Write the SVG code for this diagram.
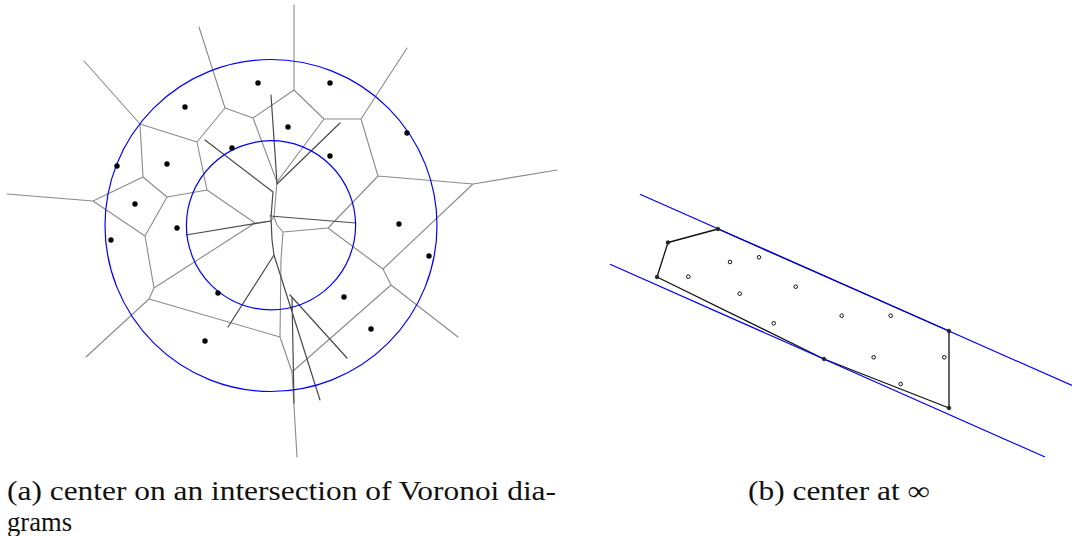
<svg xmlns="http://www.w3.org/2000/svg" width="1072" height="536" viewBox="0 0 1072 536">
<style>
.vg{stroke:#8a8a8a;stroke-width:1.1;fill:none;stroke-linecap:round;stroke-linejoin:round}
.vd{stroke:#4a4a4a;stroke-width:1.2;fill:none;stroke-linecap:round;stroke-linejoin:round}
.bl{stroke:#0000ff;stroke-width:1.2;fill:none}
.site{fill:#000}
.hull{stroke:#111;stroke-width:1.3;fill:none;stroke-linejoin:round}
.hv{fill:#222;stroke:#222;stroke-width:0.8}
.op{fill:#fff;stroke:#111;stroke-width:1}
text{font-family:"Liberation Serif","DejaVu Serif",serif;font-size:27px;fill:#111}
</style>
<rect width="1072" height="536" fill="#fff"/>
<g id="panel-a">
<g id="voronoi-edges">
<path class="vg" d="M84,61L140,124M199,27L225,108L253,118M225,108L197,142M140,124L197,142M140,124L143,177L93,201M7,194L93,201M143,177L167,197M197,142L207,190M167,197L207,190L255,223M93,201L145,236M167,197L145,236L154,288L255,223M154,288L149,299L86,357M149,299L280,337M253,118L294,90M294,5L294,90L324,119L361,119L407,48M361,119L378,176L473,184L557,170M473,184L383,269M378,176L328,228M324,119L277,182M253,118L277,182L274,217M255,223L271,221L274,217L277,225L283,232L328,228L383,269L391,285L458,337M391,285L292,372M283,232L281,260L280,337L292,372L297,457"/>
</g>
<g id="dark-edges">
<path class="vd" d="M205,140L273,192L271,217L272,240L274,255M271,95L277,183M340,123L277,184M270,216L356,223M186,235L271,221M274,255L228,327M274,255L320,400M290,295L347,358M292,297L294,403"/>
</g>
<g id="circles">
<circle class="bl" cx="271" cy="225.5" r="166"/>
<circle class="bl" cx="271" cy="225.3" r="84.6"/>
</g>
<g id="sites">
<circle class="site" cx="258" cy="83" r="2.7"/>
<circle class="site" cx="185" cy="107" r="2.7"/>
<circle class="site" cx="232" cy="148" r="2.7"/>
<circle class="site" cx="117" cy="166" r="2.7"/>
<circle class="site" cx="167" cy="164" r="2.7"/>
<circle class="site" cx="135" cy="204" r="2.7"/>
<circle class="site" cx="177" cy="228" r="2.7"/>
<circle class="site" cx="330" cy="83" r="2.7"/>
<circle class="site" cx="288" cy="127" r="2.7"/>
<circle class="site" cx="407" cy="133" r="2.7"/>
<circle class="site" cx="330" cy="156" r="2.7"/>
<circle class="site" cx="399" cy="224" r="2.7"/>
<circle class="site" cx="111" cy="240" r="2.7"/>
<circle class="site" cx="218" cy="293" r="2.7"/>
<circle class="site" cx="205" cy="341" r="2.7"/>
<circle class="site" cx="429" cy="256" r="2.7"/>
<circle class="site" cx="344" cy="297" r="2.7"/>
<circle class="site" cx="371" cy="329" r="2.7"/>
</g>
</g>
<g id="panel-b">
<g id="hull">
<polygon class="hull" points="718,229 668,242.5 657,277 824,359 949,408 949,331"/>
</g>
<g id="strip">
<line class="bl" x1="640" y1="194.2" x2="1072" y2="385.5"/>
<line class="bl" x1="610" y1="264.3" x2="1045" y2="457"/>
</g>
<g id="hull-vertices">
<circle class="hv" cx="718" cy="229" r="1.8"/>
<circle class="hv" cx="668" cy="242.5" r="1.8"/>
<circle class="hv" cx="657" cy="277" r="1.8"/>
<circle class="hv" cx="824" cy="359" r="1.8"/>
<circle class="hv" cx="949" cy="408" r="1.8"/>
<circle class="hv" cx="949" cy="331" r="1.8"/>
</g>
<g id="points">
<circle class="op" cx="688.3" cy="276.7" r="1.8"/>
<circle class="op" cx="730" cy="262" r="1.8"/>
<circle class="op" cx="759" cy="257.3" r="1.8"/>
<circle class="op" cx="739.7" cy="293.7" r="1.8"/>
<circle class="op" cx="795.7" cy="286.7" r="1.8"/>
<circle class="op" cx="773.7" cy="323.3" r="1.8"/>
<circle class="op" cx="841.7" cy="315.7" r="1.8"/>
<circle class="op" cx="890.7" cy="315.7" r="1.8"/>
<circle class="op" cx="873.7" cy="357.3" r="1.8"/>
<circle class="op" cx="944.3" cy="357.3" r="1.8"/>
<circle class="op" cx="900.7" cy="384" r="1.8"/>
</g>
</g>
<g id="captions">
<text x="7" y="500" textLength="549" lengthAdjust="spacingAndGlyphs">(a) center on an intersection of Voronoi dia-</text>
<text x="7" y="531" textLength="65" lengthAdjust="spacingAndGlyphs">grams</text>
<text x="748" y="500" textLength="182" lengthAdjust="spacingAndGlyphs">(b) center at ∞</text>
</g>
</svg>
